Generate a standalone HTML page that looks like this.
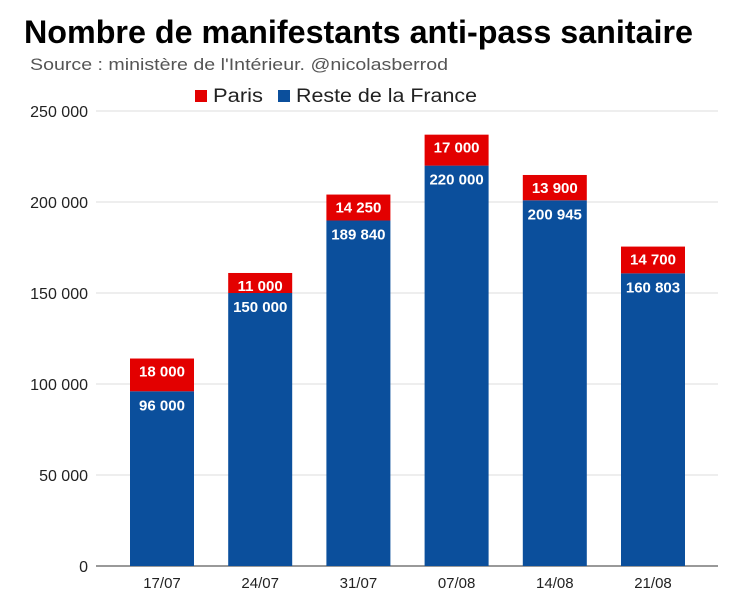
<!DOCTYPE html>
<html><head><meta charset="utf-8"><style>
body{margin:0;background:#fff;width:739px;height:607px;overflow:hidden;font-family:"Liberation Sans",Arial,sans-serif}
</style></head><body>
<svg id="chart" width="739" height="607" xmlns="http://www.w3.org/2000/svg">
<text x="24" y="43" font-size="32" font-weight="bold" fill="#000" textLength="669" lengthAdjust="spacingAndGlyphs">Nombre de manifestants anti-pass sanitaire</text>
<text x="30" y="70" font-size="17" fill="#555" textLength="418" lengthAdjust="spacingAndGlyphs">Source : ministère de l'Intérieur. @nicolasberrod</text>
<g>
<rect x="195" y="90" width="12" height="12" fill="#e30000"/>
<text x="213" y="102" font-size="19" fill="#222" textLength="50" lengthAdjust="spacingAndGlyphs">Paris</text>
<rect x="278" y="90" width="12" height="12" fill="#0b4f9c"/>
<text x="296" y="102" font-size="19" fill="#222" textLength="181" lengthAdjust="spacingAndGlyphs">Reste de la France</text>
</g>
<g id="grid"></g><g id="bars"></g><g id="xlabels"></g>
</svg>
<script>
const categories=["17/07","24/07","31/07","07/08","14/08","21/08"];
const resteValues=[96000,150000,189840,220000,200945,160803];
const parisValues=[18000,11000,14250,17000,13900,14700];
const yTicks=[0,50000,100000,150000,200000,250000];
const NS="http://www.w3.org/2000/svg";
const x0=96,x1=718,y0=566,yMax=250000,yTop=111;
const yS=v=>y0-(v/yMax)*(y0-yTop);
const xC=i=>162+98.2*i;
const bw=64;
const fmt=v=>String(Math.round(v)).replace(/\B(?=(\d{3})+(?!\d))/g," ");
function mk(tag,attrs,parent,text){const e=document.createElementNS(NS,tag);for(const k in attrs)e.setAttribute(k,attrs[k]);if(text!==undefined)e.textContent=text;parent.appendChild(e);return e;}
const grid=document.getElementById('grid'),bars=document.getElementById('bars'),xl=document.getElementById('xlabels');
yTicks.forEach(t=>{
 const l=mk('line',{x1:x0,x2:x1,y1:yS(t),y2:yS(t),stroke:t===0?'#333':'#ddd','stroke-width':1},grid);
 
 
 const tx=mk('text',{x:88,y:yS(t)+6,'text-anchor':'end','font-size':16,fill:'#222'},grid,fmt(t));
 
 
});
categories.forEach((c,i)=>{
 const cx=xC(i),r=resteValues[i],p=parisValues[i];
 const b1=mk('rect',{x:cx-bw/2,y:yS(r),width:bw,height:y0-yS(r),fill:'#0b4f9c'},bars);
 
 
 const b2=mk('rect',{x:cx-bw/2,y:yS(r+p),width:bw,height:yS(r)-yS(r+p),fill:'#e30000'},bars);
 
 
 const t1=mk('text',{x:cx,y:yS(r)+19,'text-anchor':'middle','font-size':15,'font-weight':'bold',fill:'#fff'},bars,fmt(r));
 
 
 const t2=mk('text',{x:cx,y:yS(r+p)+18,'text-anchor':'middle','font-size':15,'font-weight':'bold',fill:'#fff'},bars,fmt(p));
 
 
 const xt=mk('text',{x:cx,y:588,'text-anchor':'middle','font-size':15,fill:'#222'},xl,c);
 
 
});
</script>
</body></html>
